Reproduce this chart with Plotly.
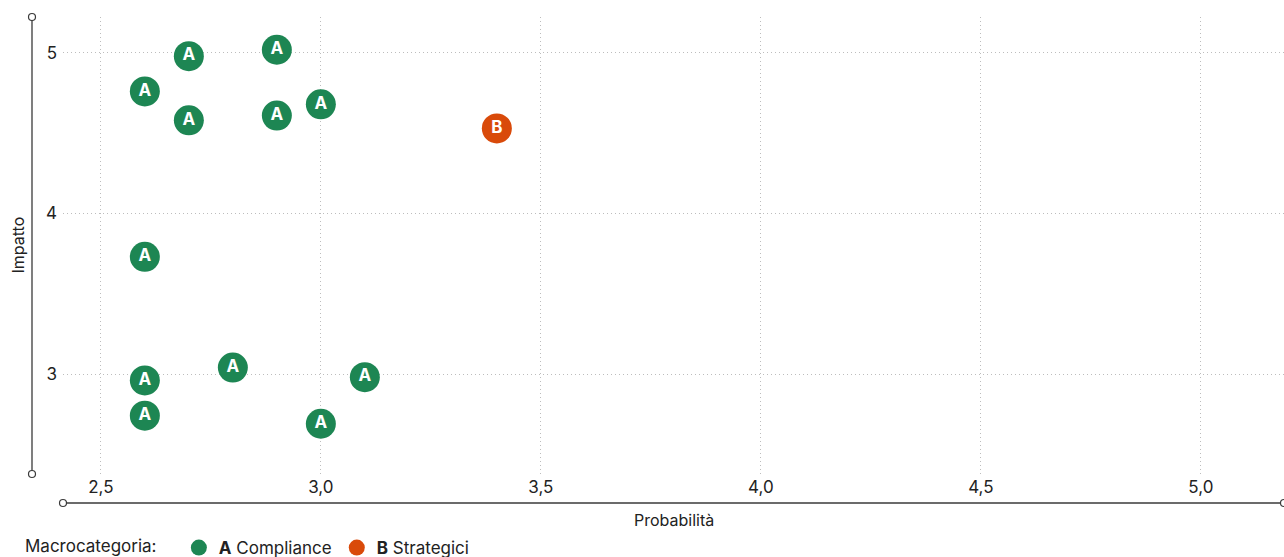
import plotly.graph_objects as go

# Data
a_prob = [2.7, 2.9, 2.6, 2.7, 2.9, 3.0, 2.6, 2.8, 2.6, 3.1, 2.6, 3.0]
a_imp = [4.98, 5.02, 4.76, 4.58, 4.61, 4.68, 3.73, 3.04, 2.96, 2.98, 2.74, 2.69]
b_prob = [3.4]
b_imp = [4.53]
x_ticks = [2.5, 3.0, 3.5, 4.0, 4.5, 5.0]
y_ticks = [3, 4, 5]

GREEN = "#1d8653"
ORANGE = "#d94a0a"
FONT = "Inter, Roboto, sans-serif"
TXT = "#222222"

fig = go.Figure()
for xs, ys, col, lbl, name in [(a_prob, a_imp, GREEN, "A", "<b>A</b> Compliance"),
                               (b_prob, b_imp, ORANGE, "B", "<b>B</b> Strategici")]:
    fig.add_trace(go.Scatter(x=xs, y=ys, mode="markers", name=name,
                             marker=dict(size=30, color=col, line=dict(width=0)),
                             cliponaxis=False, hoverinfo="skip"))
    fig.add_trace(go.Scatter(x=xs, y=ys, mode="text", text=[lbl] * len(xs),
                             textposition="middle center", showlegend=False,
                             textfont=dict(family=FONT, size=17, color="white", weight="bold"),
                             cliponaxis=False, hoverinfo="skip"))

W, H = 1284, 557
L, R, T, B = 63, 0, 17, 83
pw = W - L - R
ph = H - T - B

def px_x(p):
    return (p - L) / pw

def px_y(p):
    return (H - B - p) / ph

axis_col = "#3a3a3a"
shapes = [
    dict(type="line", xref="paper", yref="paper", x0=px_x(32), x1=px_x(32), y0=px_y(17), y1=px_y(474),
         line=dict(color=axis_col, width=1.3), layer="above"),
    dict(type="line", xref="paper", yref="paper", x0=px_x(63), x1=px_x(1284), y0=px_y(503), y1=px_y(503),
         line=dict(color=axis_col, width=1.3), layer="above"),
]
for cx, cy in [(32, 17), (32, 474), (63, 503), (1284, 503)]:
    shapes.append(dict(type="circle", xref="paper", yref="paper", xsizemode="pixel", ysizemode="pixel",
                       xanchor=px_x(cx), yanchor=px_y(cy), x0=-3.5, x1=3.5, y0=-3.5, y1=3.5,
                       fillcolor="white", line=dict(color=axis_col, width=1.2), layer="above"))

grid = dict(showgrid=True, gridcolor="#bdbdbd", griddash="1px,3px", gridwidth=1,
            zeroline=False, showline=False, ticks="")

fig.update_layout(
    width=W, height=H,
    margin=dict(l=L, r=R, t=T, b=B, autoexpand=False),
    paper_bgcolor="white", plot_bgcolor="white",
    separators=",.",
    font=dict(family=FONT, size=17, color=TXT),
    xaxis=dict(range=[2.414, 5.189], tickvals=x_ticks, tickformat=".1f",
               ticklabelstandoff=1, tickfont=dict(size=17, color=TXT), **grid),
    yaxis=dict(range=[2.377, 5.224], tickvals=y_ticks,
               ticklabelstandoff=5, tickfont=dict(size=17, color=TXT), **grid),
    shapes=shapes,
    annotations=[
        dict(text="Impatto", xref="paper", yref="paper", x=px_x(17), y=0.5, textangle=-90,
             showarrow=False, font=dict(size=16, color=TXT), xanchor="center", yanchor="middle"),
        dict(text="Probabilità", xref="paper", yref="paper", x=0.5, y=px_y(520),
             showarrow=False, font=dict(size=16, color=TXT), xanchor="center", yanchor="middle"),
    ],
    showlegend=True,
    legend=dict(orientation="h", x=px_x(23), y=px_y(548), xanchor="left", yanchor="middle",
                title=dict(text="Macrocategoria:   ", side="left", font=dict(size=17, color=TXT)),
                font=dict(size=17, color=TXT), itemsizing="trace", tracegroupgap=0,
                itemwidth=30, bgcolor="rgba(0,0,0,0)"),
)

fig.write_html("out.html")
